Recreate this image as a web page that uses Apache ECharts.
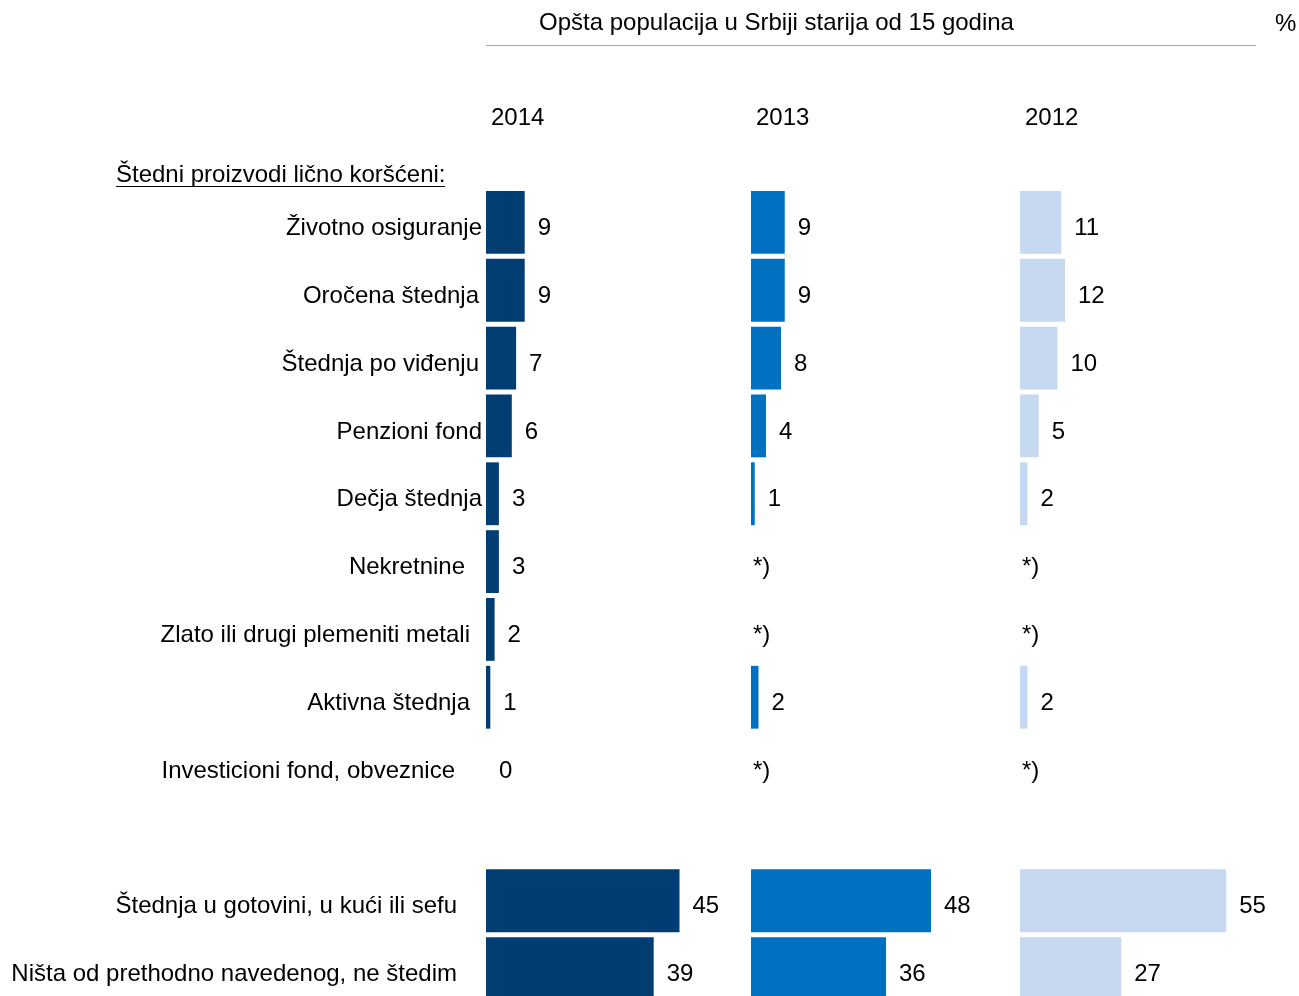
<!DOCTYPE html>
<html>
<head>
<meta charset="utf-8">
<script src="https://cdn.jsdelivr.net/npm/echarts@6/dist/echarts.min.js"></script>
<style>
  html, body { margin: 0; padding: 0; background: #fff; }
  #chart { width: 1299px; height: 996px; }
</style>
</head>
<body>
<div id="chart"></div>
<script>
// rows, top to bottom; '' is the empty spacer row
var categories = [
    'Životno osiguranje',
    'Oročena štednja',
    'Štednja po viđenju',
    'Penzioni fond',
    'Dečja štednja',
    'Nekretnine',
    'Zlato ili drugi plemeniti metali',
    'Aktivna štednja',
    'Investicioni fond, obveznice',
    '',
    'Štednja u gotovini, u kući ili sefu',
    'Ništa od prethodno navedenog, ne štedim'
];
var NA = '*)';   // nema podatka
var years = ['2014', '2013', '2012'];
var v2014 = [9, 9, 7, 6, 3, 3, 2, 1, 0, null, 45, 39];
var v2013 = [9, 9, 8, 4, 1, NA, NA, 2, NA, null, 48, 36];
var v2012 = [11, 12, 10, 5, 2, NA, NA, 2, NA, null, 55, 27];

var values = [v2014, v2013, v2012];
var colors = ['#003d73', '#0070c0', '#c6d9f1'];
// extra right padding of the row labels (they are not aligned in the original)
var labelPad = [0, 3, 3, 0, 0, 17, 12, 12, 27, 0, 25, 25];

var FONT = 'Liberation Sans, Arial, sans-serif';
var chart = echarts.init(document.getElementById('chart'));

var grids = [
    {left: 486, width: 258, top: 188.5, height: 814, outerBoundsMode: 'none'},
    {left: 751, width: 225, top: 188.5, height: 814, outerBoundsMode: 'none'},
    {left: 1020, width: 225, top: 188.5, height: 814, outerBoundsMode: 'none'}
];

var rich = {};
labelPad.forEach(function (p, i) {
    rich['r' + i] = {
        padding: [12, p, 0, 0],
        color: '#000', fontSize: 24, fontFamily: FONT
    };
});

var xAxes = [], yAxes = [], series = [], titles = [];
for (var g = 0; g < 3; g++) {
    xAxes.push({
        type: 'value', gridIndex: g, min: 0, max: 60,
        show: false
    });
    yAxes.push({
        type: 'category', gridIndex: g, inverse: true,
        data: categories,
        axisLine: {show: false},
        axisTick: {show: false},
        axisLabel: {
            show: g === 0, margin: 4,
            formatter: function (v, i) {
                return v ? '{r' + i + '|' + v + '}' : '';
            },
            rich: rich
        }
    });
    var data = values[g].map(function (v) {
        if (v === null) return '-';
        if (v === NA) {
            return {value: 0, label: {formatter: NA, distance: 2}};
        }
        return v;
    });
    series.push({
        type: 'bar',
        xAxisIndex: g, yAxisIndex: g,
        data: data,
        barCategoryGap: '7.4%',
        itemStyle: {color: colors[g]},
        label: {
            show: true, position: 'right', distance: 13,
            offset: [0, 6],
            color: '#000', fontSize: 24, fontFamily: FONT
        },
        silent: true,
        animation: false
    });
    titles.push({
        text: years[g],
        left: grids[g].left + 5, top: 106, padding: 0,
        textStyle: {color: '#000', fontSize: 24, fontWeight: 'normal', fontFamily: FONT}
    });
}

titles.push({
    text: 'Opšta populacija u Srbiji starija od 15 godina',
    left: 539, top: 11, padding: 0,
    textStyle: {color: '#000', fontSize: 24, fontWeight: 'normal', fontFamily: FONT}
});
titles.push({
    text: '%',
    left: 1275, top: 12, padding: 0,
    textStyle: {color: '#000', fontSize: 24, fontWeight: 'normal', fontFamily: FONT}
});

var option = {
    backgroundColor: '#fff',
    title: titles,
    grid: grids,
    xAxis: xAxes,
    yAxis: yAxes,
    series: series,
    graphic: [
        {
            type: 'line',
            shape: {x1: 486, y1: 45.5, x2: 1256, y2: 45.5},
            style: {stroke: '#a6a6a6', lineWidth: 1}
        },
        {
            type: 'text',
            left: 116, top: 163,
            style: {
                text: 'Štedni proizvodi lično koršćeni:',
                fill: '#000', fontSize: 24, fontFamily: FONT
            }
        },
        {
            type: 'line',
            shape: {x1: 116, y1: 186.5, x2: 445, y2: 186.5},
            style: {stroke: '#000', lineWidth: 1.2}
        }
    ]
};
chart.setOption(option);
</script>
</body>
</html>
